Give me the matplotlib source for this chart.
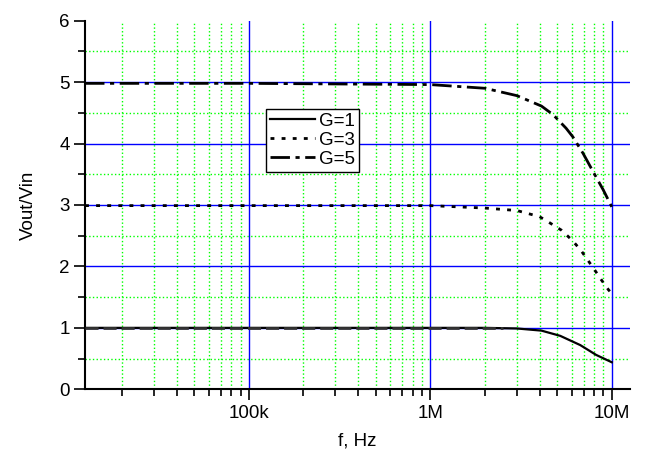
import numpy as np
import matplotlib
matplotlib.use('Agg')
from matplotlib import pyplot as plt

# data
f1 = [12.5e3, 1e5, 1e6, 2e6, 3e6, 4.1e6, 5.2e6, 6.7e6, 8.2e6, 10e6]
g1 = [1.0, 1.0, 1.0, 1.0, 0.99, 0.955, 0.87, 0.72, 0.56, 0.44]

f3 = [12.5e3, 1e5, 1e6, 2e6, 3e6, 4e6, 4.55e6, 5.28e6, 6.03e6, 6.73e6, 7.35e6, 8.06e6, 8.77e6, 9.59e6, 10e6]
g3 = [2.99, 2.99, 2.99, 2.95, 2.91, 2.81, 2.71, 2.59, 2.43, 2.27, 2.11, 1.94, 1.78, 1.62, 1.56]

f5 = [12.5e3, 1e5, 1e6, 2e6, 3e6, 4.1e6, 4.75e6, 5.6e6, 6.1e6, 6.95e6, 7.9e6, 8.96e6, 10e6]
g5 = [4.98, 4.98, 4.96, 4.90, 4.78, 4.61, 4.47, 4.25, 4.11, 3.84, 3.54, 3.25, 2.97]

# dashed reference overlay on the G=1 line
f_ref = [12.5e3, 2.5e6]
g_ref = [1.0, 1.0]

xticks = [1e5, 1e6, 1e7]
xtick_labels = ['100k', '1M', '10M']
yticks = [0, 1, 2, 3, 4, 5, 6]

plt.rcParams['font.family'] = ['Liberation Sans', 'DejaVu Sans']

fig = plt.figure(figsize=(6.51, 4.5), dpi=100)
ax = fig.add_axes([0.1306, 0.1349, 0.8371, 0.8191])
ax.set_xscale('log')
ax.set_xlim(12.5e3, 12.6e6)
ax.set_ylim(0, 6)

# grid drawn by hand so nothing shows at the top edge
for dec in [1e4, 1e5, 1e6]:
    for m in range(2, 10):
        x = dec * m
        if 12.5e3 < x < 12.6e6:
            ax.axvline(x, color='#00ff00', ls=':', lw=1, zorder=1)
for y in np.arange(0.5, 6, 1.0):
    ax.axhline(y, color='#00ff00', ls=':', lw=1, zorder=1)
for x in xticks:
    ax.axvline(x, color='blue', lw=1, zorder=1.5)
for y in [1, 2, 3, 4, 5]:
    ax.axhline(y, color='blue', lw=1, zorder=1.5)

ax.plot(f1, g1, color='black', lw=1.6, label='G=1', zorder=3)
ax.plot(f_ref, g_ref, color='#333333', lw=2, dashes=(4.7, 1.8), zorder=3.5)
ax.plot(f3, g3, color='black', lw=2, dashes=(1.4, 2.6), label='G=3', zorder=3)
ax.plot(f5, g5, color='black', lw=2, dashes=(7, 2, 1.5, 2), label='G=5', zorder=3)

ax.set_xticks(xticks)
ax.set_xticklabels(xtick_labels)
ax.set_yticks(yticks)
ax.set_yticks(np.arange(0.5, 6, 1.0), minor=True)
ax.tick_params(which='major', direction='out', length=8, width=1.2, labelsize=13.5, pad=3)
ax.tick_params(which='minor', direction='out', length=5, width=1.2)
ax.tick_params(axis='x', which='minor', labelbottom=False)

for side in ['top', 'right']:
    ax.spines[side].set_visible(False)
for side in ['left', 'bottom']:
    ax.spines[side].set_linewidth(1.5)

ax.set_xlabel('f, Hz', fontsize=13.5, labelpad=8)
ax.set_ylabel('Vout/Vin', fontsize=13.5, labelpad=16)

leg = ax.legend(loc='upper left', bbox_to_anchor=(0.332, 0.76), fontsize=13.5,
                handlelength=2.4, handletextpad=0.25, borderpad=0.2,
                labelspacing=0.1, fancybox=False, framealpha=1, borderaxespad=0)
leg.get_frame().set_edgecolor('black')
leg.get_frame().set_linewidth(1)

fig.savefig('out.png', dpi=100)
